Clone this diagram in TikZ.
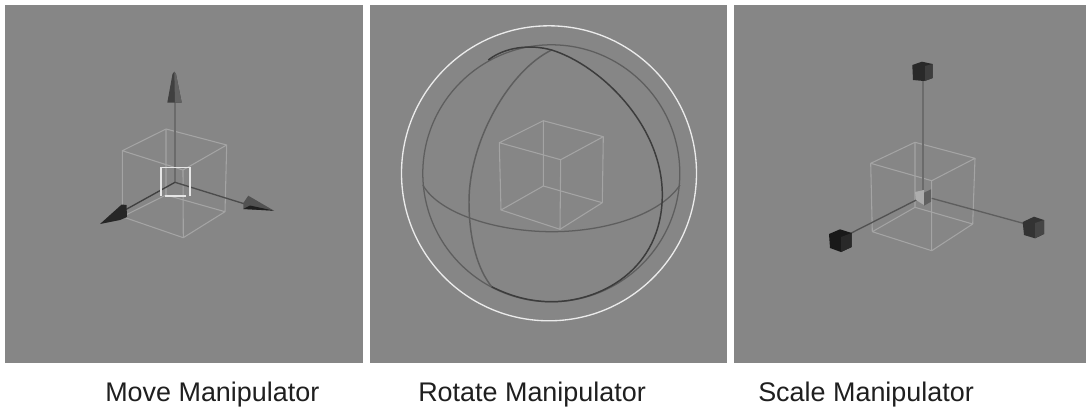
\documentclass[tikz,border=0pt]{standalone}
\usepackage{fontspec}
\setmainfont{Liberation Sans}
\definecolor{panelgray}{HTML}{868686}
\definecolor{cubeline}{HTML}{A4A4A4}
\definecolor{axisline}{HTML}{5E5E5E}
\definecolor{ringline}{HTML}{5E5E5E}
\definecolor{darkring}{HTML}{3C3C3C}
\tikzset{
  x=0.75pt,y=-0.75pt,
  panel/.style={fill=panelgray,draw=none},
  cubewire/.style={draw=cubeline,line width=0.8pt,line join=round},
  axisstroke/.style={draw=axisline,line width=1pt},
  ring/.style={draw=ringline,line width=0.95pt},
  darkarc/.style={draw=darkring,line width=1.1pt},
  whitering/.style={draw=white!92!black,line width=1pt},
  caption/.style={anchor=base west,inner sep=0pt,font=\fontsize{20.2pt}{23pt}\selectfont,text=black!88}
}
\newcommand{\wirecube}[8]{%
  \draw[cubewire] #1 -- #2 -- #4 -- #3 -- cycle;
  \draw[cubewire] #5 -- #6 -- #8 -- #7 -- cycle;
  \draw[cubewire] #1 -- #5 #2 -- #6 #3 -- #7 #4 -- #8;
}
\begin{document}
\begin{tikzpicture}
\useasboundingbox (0,0) rectangle (1086,408);
\fill[white] (0,0) rectangle (1086,408);
\fill[panel] (5,5) rectangle (362.7,362.7);
\fill[panel] (370,5) rectangle (726.7,362.7);
\fill[panel] (734,5) rectangle (1086,362.7);

% --- Move manipulator
\wirecube{(166,129)}{(226.7,145)}{(122.3,150.7)}{(183,170)}{(166,195)}{(225,211.7)}{(122.3,216.7)}{(183.3,237.7)}
\coordinate (mo) at (175,182.3);
\coordinate (mu) at (175,102);
\coordinate (mr) at (245,204);
\coordinate (ml) at (125,210);
\draw[axisstroke,line width=1.2pt,draw=black!58] (mo) -- (mu);
\draw[axisstroke,draw=black!70] (mo) -- (mr);
\draw[axisstroke,draw=black!75] (mo) -- (ml);
\draw[white!90!black,line width=1.2pt] (160.7,196) -- (160.7,167.3) -- (190,167.3) -- (190,196);
\draw[white!90!black,line width=1.2pt] (165,196) -- (186,196);
\fill[black!75] (174.3,71.7) -- (176,74) -- (181.7,102.7) -- (167.3,102.7) -- (172.5,74) -- cycle;
\fill[black!62] (174.3,71.7) -- (176,74) -- (181.7,102.7) -- (175,102.7) -- cycle;
\fill[black!68] (274,210.7) -- (248.3,195.7) -- (243.3,203) -- (243.3,209) -- cycle;
\fill[black!88] (274,210.7) -- (250,205.5) -- (243.3,209) -- cycle;
\fill[black!85] (100,224) -- (121.7,204.5) -- (126.5,205) -- (127,217) -- (120,220) -- cycle;

% --- Rotate manipulator
\wirecube{(543.3,120.7)}{(603.3,136.7)}{(499.3,142.7)}{(560.7,159.7)}{(543.3,186)}{(602.3,202.7)}{(501,210)}{(560,229.3)}
\draw[whitering] (549,173.3) circle (147.5);
\draw[ring] (551.3,173.3) circle (128.5);
\draw[ring] (422.8,185) .. controls (440,215) and (500,231.7) .. (551.7,231.7) .. controls (605,231.7) and (660,215) .. (680,185);
\draw[ring,line width=1.1pt] (551.7,50) .. controls (510,70) and (469,140) .. (469,201.7) .. controls (469,240) and (478,270) .. (491.7,286.7);
\draw[darkarc] (491.7,286.7) .. controls (510,296) and (530,301.7) .. (551.7,301.7) .. controls (600,301.7) and (662,270) .. (662.3,195) .. controls (662.5,125) and (600,65) .. (551.7,50) .. controls (530,44) and (505,47) .. (488.3,60);

% --- Scale manipulator
\wirecube{(915,142.3)}{(975,158.3)}{(870.7,163.3)}{(931.7,180.7)}{(915,207.3)}{(972.7,224)}{(872.3,231.7)}{(931.7,250.7)}
\draw[axisstroke,line width=1.2pt,draw=black!58] (922.7,190) -- (922.7,80);
\draw[axisstroke] (931.7,198.3) -- (1023.3,223.3);
\draw[axisstroke,draw=black!68] (918.3,199) -- (850.7,233.3);
\fill[black!32] (915,192) -- (924,190) -- (924,205) -- (916,200) -- cycle;
\fill[black!62] (924,192.7) -- (931,189.3) -- (931,201.7) -- (924,205.7) -- cycle;
% top handle
\fill[black!84] (912.3,65) -- (922,61.7) -- (932.7,64) -- (932.7,78) -- (924,81) -- (913,80) -- cycle;
\fill[black!76] (925,66) -- (932.7,64) -- (932.7,78) -- (925,81) -- cycle;
% right handle
\fill[black!80] (1022.7,222) -- (1034,216.7) -- (1044,220) -- (1044,234) -- (1035,238.3) -- (1024,235) -- cycle;
\fill[black!73] (1035,223) -- (1044,220) -- (1044,234) -- (1035,238.3) -- cycle;
% left handle
\fill[black!90] (829,234) -- (840,229.3) -- (851.7,233) -- (851.7,247) -- (841,252) -- (830,248) -- cycle;
\fill[black!84] (841,237) -- (851.7,233) -- (851.7,247) -- (841,252) -- cycle;

% --- Captions
\node[caption] (capa) at (105,401.7) {Move Manipulator};
\node[caption] (capb) at (418,401.7) {Rotate Manipulator};
\node[caption] (capc) at (758,401.7) {Scale Manipulator};
\end{tikzpicture}
\end{document}
